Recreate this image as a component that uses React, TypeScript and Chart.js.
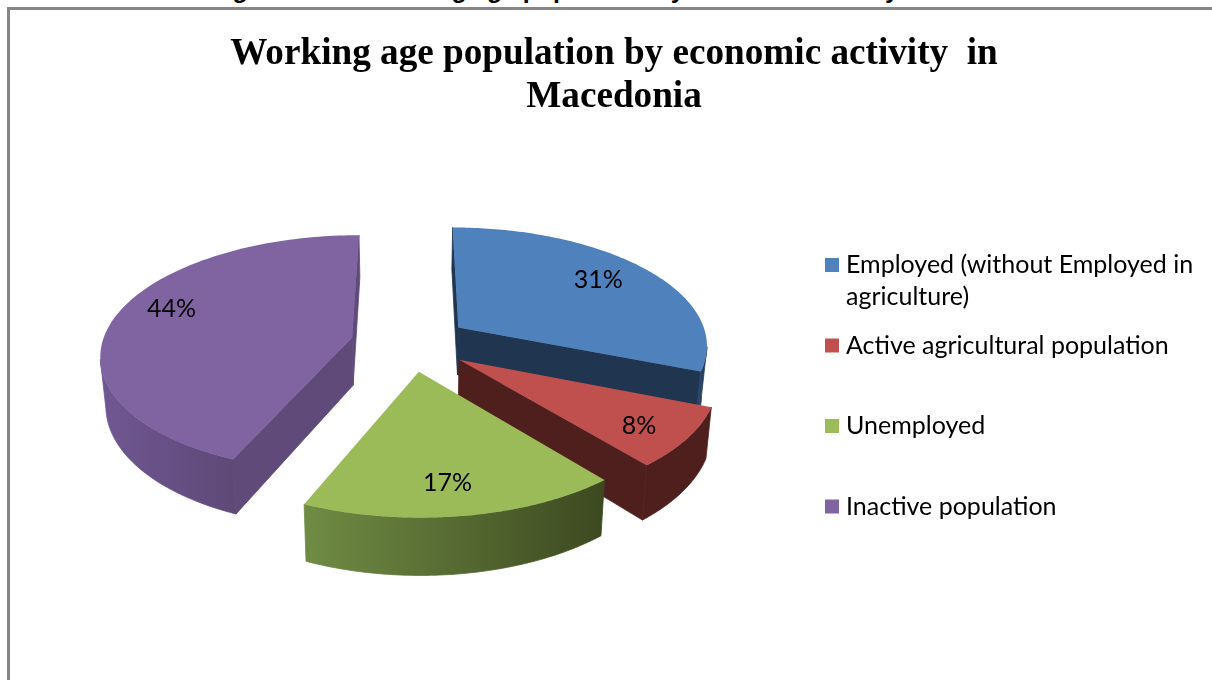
import React, { useEffect, useRef } from "react";
import { Chart, registerables } from "chart.js";

Chart.register(...registerables);

const categories = [
  "Employed (without Employed in agriculture)",
  "Active agricultural population",
  "Unemployed",
  "Inactive population",
];
const legendFirstLines = ["Employed (without Employed in", "Active agricultural population", "Unemployed", "Inactive population"];
const legendSecondLine = "agriculture)";
const values = [31, 8, 17.4, 43.6];
const titleLines = ["Working age population by economic activity  in", "Macedonia"];
const pageHeading = "Figure No. 1: Working age population by economic activity in Macedonia";
const topColors = ["#4f81bd", "#c0504d", "#9bbb59", "#8064a2"];
const cutColors = ["#1f3550", "#4f1f1e", "#3d4a22", "#5f4a7a"];
const wallStartColors = ["#2a4568", "#4f1f1e", "#708c44", "#705792"];
const wallEndColors = ["#1f3550", "#4f1f1e", "#3c4920", "#5e4977"];
const labelNudgeX = [-7, 5, -5, 4];
const labelNudgeY = [-1, 6, 3, -11];
const drawOrder = [0, 3, 1, 2];

const K = 0.136;
const SX = 1.7;
const SY = 0.8;
const SZ = 0.327;
const LABEL_R = 0.78;
const LEGEND_PAD = 55.5;
const LEGEND_LEFT = 765;
const LEGEND_TOP = 187;

const pie3d = {
  id: "pie3d",
  afterLayout(chart: any) {
    const t = chart.titleBlock;
    t.left = 0;
    t.right = chart.width;
    t.width = chart.width;
    const l = chart.legend;
    l.left = LEGEND_LEFT;
    l.top = LEGEND_TOP;
    l.bottom = chart.height;
    l.right = chart.width;
  },
  beforeDatasetsDraw(chart: any) {
    const ctx = chart.ctx;
    const meta = chart.getDatasetMeta(0);
    const total = values.reduce((a, b) => a + b, 0);
    for (const i of drawOrder) {
      const el = meta.data[i];
      const R = el.outerRadius;
      const e = (el.options.offset || 0) / 4 / R;
      const a0 = el.startAngle;
      const a1 = el.endAngle;
      const mid = (a0 + a1) / 2;
      const ox = e * Math.cos(mid);
      const oy = e * Math.sin(mid);
      const proj = (wx: number, wy: number, z: number) => {
        const w = 1 - K * wy;
        return {
          x: el.x + (SX * R * wx * (1 - 0.018 * z)) / w,
          y: el.y + (SY * R * wy + SZ * R * z) / w,
        };
      };
      const rim = (a: number, r: number, z: number) => proj(ox + r * Math.cos(a), oy + r * Math.sin(a), z);
      const poly = (pts: { x: number; y: number }[], fill: any, seal = false) => {
        ctx.beginPath();
        pts.forEach((p, n) => (n ? ctx.lineTo(p.x, p.y) : ctx.moveTo(p.x, p.y)));
        ctx.closePath();
        ctx.fillStyle = fill;
        ctx.fill();
        if (seal) {
          ctx.strokeStyle = fill;
          ctx.lineWidth = 0.8;
          ctx.stroke();
        }
      };
      const area = (pts: { x: number; y: number }[]) =>
        pts.reduce((s, p, n) => {
          const q = pts[(n + 1) % pts.length];
          return s + p.x * q.y - q.x * p.y;
        }, 0);
      const cut = (a: number) => [rim(a, 0, 0), rim(a, 1, 0), rim(a, 1, 1), rim(a, 0, 1)];
      const startFace = cut(a0);
      const endFace = cut(a1);
      if (area(startFace) < 0) poly(startFace, cutColors[i], true);
      if (area(endFace) > 0) poly(endFace, cutColors[i], true);

      const steps = 120;
      const vis: number[] = [];
      for (let s = 0; s <= steps; s++) vis.push(a0 + ((a1 - a0) * s) / steps);
      const front = vis.filter((a, n) => {
        const b = vis[Math.min(n + 1, steps)];
        const c = vis[Math.max(n - 1, 0)];
        return rim(b, 1, 0).x < rim(c, 1, 0).x;
      });
      if (front.length > 1) {
        const upper = front.map((a) => rim(a, 1, 0));
        const lower = front.map((a) => rim(a, 1, 1)).reverse();
        const xs = upper.map((p) => p.x);
        const g = ctx.createLinearGradient(Math.min(...xs), 0, Math.max(...xs), 0);
        g.addColorStop(0, wallStartColors[i]);
        g.addColorStop(1, wallEndColors[i]);
        poly([...upper, ...lower], g, true);
      }

      const top = [rim(a0, 0, 0)];
      for (let s = 0; s <= steps; s++) top.push(rim(a0 + ((a1 - a0) * s) / steps, 1, 0));
      poly(top, el.options.backgroundColor);
    }
    ctx.save();
    ctx.fillStyle = "#000";
    ctx.font = "25px Lato";
    ctx.textAlign = "center";
    ctx.textBaseline = "middle";
    for (const i of drawOrder) {
      const el = meta.data[i];
      const R = el.outerRadius;
      const e = (el.options.offset || 0) / 4 / R;
      const mid = (el.startAngle + el.endAngle) / 2;
      const wx = (e + LABEL_R) * Math.cos(mid);
      const wy = (e + LABEL_R) * Math.sin(mid);
      const w = 1 - K * wy;
      ctx.fillText(
        `${Math.round((values[i] / total) * 100)}%`,
        el.x + (SX * R * wx) / w + labelNudgeX[i],
        el.y + (SY * R * wy) / w + labelNudgeY[i]
      );
    }
    ctx.restore();
    return false;
  },
  afterDraw(chart: any) {
    const ctx = chart.ctx;
    const labels = chart.options.plugins.legend.labels;
    const size = labels.font.size;
    ctx.save();
    ctx.fillStyle = labels.color;
    ctx.font = `${size}px ${labels.font.family}`;
    ctx.textBaseline = "middle";
    ctx.textAlign = "left";
    ctx.fillText(
      legendSecondLine,
      LEGEND_LEFT + LEGEND_PAD + labels.boxWidth + size / 2,
      LEGEND_TOP + LEGEND_PAD + size / 2 + 32
    );
    ctx.restore();
  },
};

export default function App() {
  const ref = useRef<HTMLCanvasElement | null>(null);
  useEffect(() => {
    const chart = new Chart(ref.current as HTMLCanvasElement, {
      type: "pie",
      plugins: [pie3d],
      data: {
        labels: categories,
        datasets: [
          {
            data: values,
            backgroundColor: topColors,
            borderWidth: 0,
            offset: 140,
          },
        ],
      },
      options: {
        animation: false,
        responsive: false,
        layout: { padding: { left: 0, right: 408, top: 0, bottom: 130 } },
        plugins: {
          tooltip: { enabled: false },
          title: {
            display: true,
            text: titleLines,
            color: "#000",
            font: { family: "'Liberation Serif'", size: 37.2, weight: "bold", lineHeight: 1.16 },
            padding: { top: 23, bottom: 6.7 },
          },
          legend: {
            display: true,
            position: "chartArea",
            align: "start",
            labels: {
              color: "#000",
              font: { family: "Lato", size: 25 },
              boxWidth: 3,
              boxHeight: 14,
              usePointStyle: true,
              pointStyle: "rect",
              padding: LEGEND_PAD,
              generateLabels: (c: any) =>
                (Chart as any).overrides.doughnut.plugins.legend.labels
                  .generateLabels(c)
                  .map((it: any, n: number) => ({ ...it, text: legendFirstLines[n], pointStyle: "rect" })),
            },
          },
        },
      } as any,
    });
    return () => chart.destroy();
  }, []);
  return (
    <div style={{ position: "fixed", inset: 0, overflow: "hidden", background: "#fff" }}>
      <div
        style={{
          position: "absolute",
          left: 210.5,
          top: -24.4,
          font: "bold 24.7px 'Liberation Sans'",
          color: "#000",
          whiteSpace: "nowrap",
        }}
      >
        {pageHeading}
      </div>
      <div
        style={{
          position: "absolute",
          left: 7,
          top: 7,
          width: 1220,
          height: 700,
          borderLeft: "3px solid #868686",
          borderTop: "3px solid #868686",
          overflow: "hidden",
        }}
      >
        <canvas ref={ref} width={1208} height={680} style={{ display: "block", width: 1208, height: 680 }} />
      </div>
    </div>
  );
}
